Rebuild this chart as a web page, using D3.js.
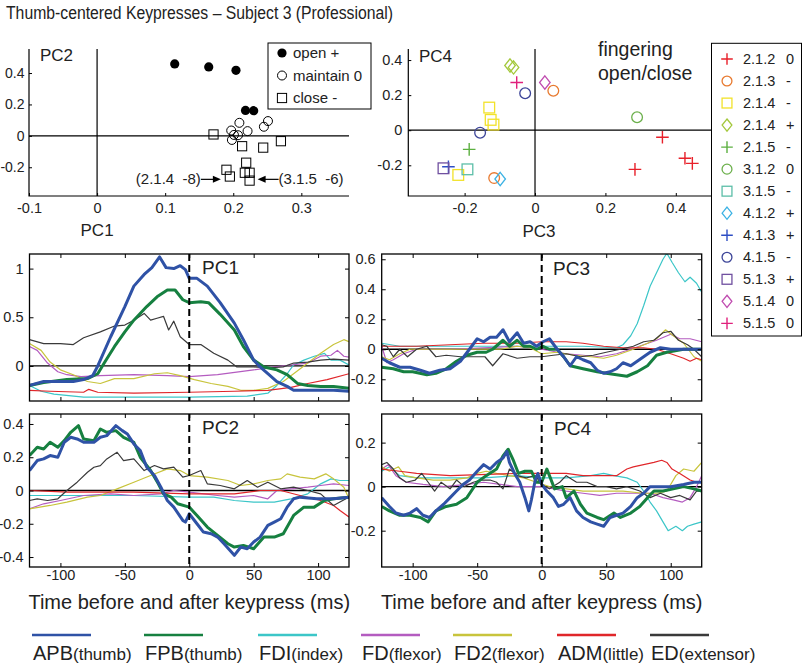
<!DOCTYPE html>
<html><head><meta charset="utf-8">
<script src="https://cdn.jsdelivr.net/npm/d3@7"></script>
<style>
body{margin:0;background:#fff}
svg{display:block}
text{font-family:"Liberation Sans",Arial,Helvetica,sans-serif;fill:#222}
</style>
</head><body>
<svg id="c" width="805" height="668"></svg>
<script>
// ---------------- DATA ----------------
const chartTitle = "Thumb-centered Keypresses \u2013 Subject 3 (Professional)";

// Top-left scatter (PC1 vs PC2): [action index, PC1, PC2]
const actionLabels = ["open +", "maintain 0", "close -"];
const pc12Points = [
  [0,0.114,0.458],[0,0.164,0.439],[0,0.204,0.417],[0,0.218,0.162],[0,0.230,0.160],
  [1,0.209,0.083],[1,0.251,0.094],[1,0.245,0.058],[1,0.197,0.034],[1,0.221,0.030],
  [1,0.201,0.006],[1,0.207,0.004],[1,0.198,-0.026],
  [2,0.171,0.009],[2,0.213,-0.066],[2,0.244,-0.075],[2,0.270,-0.034],[2,0.219,-0.171],
  [2,0.190,-0.216],[2,0.195,-0.259],[2,0.217,-0.235],[2,0.224,-0.235],[2,0.224,-0.285]
];
// annotations: [text, target PC1, target PC2, side]
const pc12Notes = [["(2.1.4  -8)",0.195,-0.259,"left"],["(3.1.5  -6)",0.224,-0.285,"right"]];
const pc12XTicks = [-0.1,0,0.1,0.2,0.3];
const pc12YTicks = [-0.2,0,0.2,0.4];

// Top-right scatter (PC3 vs PC4)
const fingerLabels = ["2.1.2","2.1.3","2.1.4","2.1.4","2.1.5","3.1.2","3.1.5","4.1.2","4.1.3","4.1.5","5.1.3","5.1.4","5.1.5"];
const fingerSigns  = ["0","-","-","+","-","0","-","+","+","-","+","0","0"];
// [finger index, PC3, PC4]
const pc34Points = [
  [0,0.362,-0.040],[0,0.426,-0.160],[0,0.447,-0.189],[0,0.284,-0.223],
  [1,0.052,0.225],[1,-0.116,-0.273],
  [2,-0.130,0.129],[2,-0.126,0.059],[2,-0.118,0.032],[2,-0.218,-0.255],
  [3,-0.071,0.369],[3,-0.061,0.358],
  [4,-0.187,-0.109],
  [5,0.290,0.074],
  [6,-0.192,-0.223],
  [7,-0.099,-0.278],
  [8,-0.246,-0.208],
  [9,-0.028,0.211],[9,-0.156,-0.014],
  [10,-0.260,-0.217],
  [11,0.028,0.272],
  [12,-0.052,0.272]
];
const pc34XTicks = [-0.2,0,0.2,0.4];
const pc34YTicks = [-0.2,0,0.2,0.4];

// Muscles
const muscles = ["APB","FPB","FDI","FD","FD2","ADM","ED"];
const muscleSub = ["(thumb)","(thumb)","(index)","(flexor)","(flexor)","(little)","(extensor)"];
const timeTicks = [-100,-50,0,50,100];

// Time courses: [ms, weight]
const pc1APB = [[-124,-0.20],[-113,-0.16],[-90,-0.16],[-82,-0.14],[-75,-0.10],[-71,0],[-61,0.30],[-50,0.61],[-43,0.82],[-35,0.94],[-29,1.01],[-23,1.12],[-18,1.01],[-12,1.00],[-7,1.03],[-3,0.99],[0,0.90],[6,0.90],[14,0.82],[24,0.65],[35,0.44],[42,0.27],[50,0.06],[55,-0.01],[61,-0.08],[68,-0.16],[76,-0.21],[81,-0.25],[99,-0.25],[112,-0.25],[124,-0.26]];
const pc1FPB = [[-124,-0.20],[-113,-0.17],[-95,-0.14],[-79,-0.13],[-71,-0.08],[-66,0.03],[-58,0.20],[-50,0.35],[-43,0.47],[-33,0.61],[-25,0.71],[-17,0.78],[-11,0.78],[-5,0.68],[0,0.65],[9,0.66],[15,0.65],[24,0.53],[35,0.37],[42,0.20],[50,0.06],[58,-0.01],[68,-0.04],[76,-0.09],[84,-0.18],[92,-0.20],[102,-0.21],[112,-0.21],[124,-0.23]];
const pc1FDI = [[-124,-0.20],[-115,-0.26],[-105,-0.29],[-82,-0.32],[-43,-0.32],[0,-0.32],[45,-0.31],[61,-0.28],[68,-0.20],[76,-0.08],[81,0.01],[89,0.06],[97,0.10],[105,0.13],[110,0.06],[117,0.06],[124,0.01]];
const pc1FD  = [[-124,0.20],[-118,0.16],[-110,0.03],[-102,-0.06],[-95,-0.09],[-84,-0.11],[-69,-0.10],[-43,-0.09],[-17,-0.10],[0,-0.11],[22,-0.09],[50,-0.04],[66,-0.01],[79,0.01],[92,0.03],[102,0.10],[110,0.11],[115,0.16],[120,0.10],[124,0.09]];
const pc1FD2 = [[-124,0.23],[-115,0.16],[-108,0.04],[-100,-0.04],[-90,-0.09],[-79,-0.16],[-69,-0.18],[-58,-0.13],[-43,-0.13],[-27,-0.08],[-17,-0.07],[-7,-0.10],[4,-0.14],[17,-0.18],[30,-0.21],[40,-0.25],[50,-0.25],[61,-0.23],[73,-0.16],[81,-0.08],[92,0.03],[102,0.13],[112,0.22],[120,0.27],[124,0.25]];
const pc1ADM = [[-124,-0.25],[-108,-0.26],[-82,-0.27],[-78,-0.24],[-71,-0.27],[-43,-0.28],[0,-0.27],[35,-0.26],[61,-0.25],[79,-0.22],[92,-0.18],[107,-0.14],[124,-0.08]];
const pc1ED  = [[-124,0.27],[-113,0.23],[-100,0.23],[-90,0.22],[-82,0.29],[-69,0.35],[-58,0.41],[-50,0.42],[-43,0.47],[-35,0.54],[-30,0.47],[-25,0.49],[-20,0.51],[-16,0.37],[-12,0.46],[-7,0.30],[0,0.22],[9,0.22],[19,0.13],[30,0.06],[37,-0.01],[50,-0.01],[61,-0.02],[73,-0.01],[81,0.03],[92,0.04],[102,0.06],[112,0.07],[124,0.06]];

const pc2APB = [[-124,0.12],[-118,0.18],[-113,0.19],[-108,0.21],[-102,0.20],[-97,0.29],[-92,0.32],[-87,0.31],[-82,0.29],[-74,0.29],[-69,0.32],[-64,0.33],[-57,0.39],[-52,0.36],[-48,0.34],[-43,0.28],[-38,0.24],[-33,0.14],[-27,0.09],[-22,0.02],[-17,-0.06],[-12,-0.10],[-5,-0.18],[-3,-0.19],[0,-0.14],[6,-0.20],[11,-0.25],[17,-0.26],[22,-0.28],[27,-0.32],[35,-0.39],[40,-0.34],[45,-0.35],[50,-0.31],[55,-0.28],[61,-0.21],[66,-0.19],[71,-0.17],[76,-0.10],[81,-0.05],[86,-0.04],[99,-0.05],[112,-0.05],[124,-0.04]];
const pc2FPB = [[-124,0.21],[-118,0.26],[-113,0.25],[-108,0.29],[-102,0.26],[-97,0.30],[-92,0.35],[-86,0.39],[-82,0.31],[-74,0.30],[-69,0.37],[-64,0.35],[-57,0.36],[-51,0.32],[-43,0.29],[-38,0.20],[-30,0.12],[-24,0.04],[-20,-0.02],[-14,-0.04],[-9,-0.08],[0,-0.10],[6,-0.15],[14,-0.22],[22,-0.27],[30,-0.32],[35,-0.34],[42,-0.33],[50,-0.35],[58,-0.28],[66,-0.28],[73,-0.26],[81,-0.15],[89,-0.10],[97,-0.10],[105,-0.06],[112,-0.05],[124,-0.04]];
const pc2FDI = [[-124,-0.03],[-95,-0.03],[-43,-0.03],[0,-0.04],[19,-0.04],[35,-0.06],[50,-0.07],[66,-0.07],[79,-0.05],[92,-0.02],[102,0.04],[110,0.07],[117,0.06],[124,0.06]];
const pc2FD  = [[-124,-0.11],[-113,-0.08],[-100,-0.06],[-82,-0.03],[-61,-0.02],[-43,-0.03],[-22,-0.02],[-12,0.00],[0,-0.01],[22,-0.03],[35,-0.04],[50,-0.03],[61,-0.05],[68,0.00],[79,0.01],[92,0.02],[102,0.03],[112,0.04],[124,0.03]];
const pc2FD2 = [[-124,-0.11],[-108,-0.09],[-95,-0.07],[-79,-0.04],[-69,-0.03],[-56,0.01],[-43,0.05],[-30,0.09],[-17,0.13],[-7,0.12],[0,0.09],[14,0.08],[30,0.06],[40,0.03],[50,0.04],[61,0.06],[71,0.07],[76,0.10],[86,0.08],[97,0.07],[106,0.10],[112,0.07],[120,0.02],[124,-0.05]];
const pc2ADM = [[-124,0.00],[-95,-0.01],[-43,-0.01],[0,-0.02],[35,-0.02],[55,0.00],[71,0.00],[86,-0.03],[102,-0.06],[112,-0.09],[117,-0.12],[124,-0.16]];
const pc2ED  = [[-124,-0.06],[-118,-0.05],[-110,-0.06],[-102,-0.05],[-95,0.00],[-87,0.05],[-79,0.11],[-74,0.14],[-69,0.15],[-64,0.19],[-56,0.23],[-51,0.18],[-43,0.19],[-35,0.12],[-27,0.15],[-20,0.13],[-12,0.14],[-5,0.08],[0,0.09],[9,0.12],[14,0.04],[24,0.03],[35,0.01],[45,0.06],[53,0.02],[61,0.05],[71,0.01],[81,0.02],[92,0.00],[102,-0.02],[112,-0.09],[124,-0.04]];

const pc3APB = [[-124,-0.06],[-118,-0.09],[-110,-0.12],[-102,-0.12],[-94,-0.14],[-87,-0.16],[-79,-0.14],[-71,-0.13],[-63,-0.08],[-56,0.00],[-50,0.07],[-45,0.05],[-40,0.08],[-35,0.08],[-30,0.13],[-25,0.05],[-19,0.11],[-14,0.04],[-9,0.05],[-4,0.02],[1,0.05],[6,0.07],[12,0.00],[17,-0.05],[22,-0.11],[27,-0.05],[32,-0.07],[38,-0.09],[43,-0.14],[48,-0.16],[53,-0.15],[58,-0.13],[63,-0.09],[69,-0.11],[74,-0.08],[79,-0.05],[84,-0.02],[92,0.01],[100,0.00],[110,0.00],[124,0.00]];
const pc3FPB = [[-124,-0.12],[-115,-0.13],[-107,-0.15],[-100,-0.15],[-89,-0.17],[-82,-0.16],[-74,-0.13],[-66,-0.08],[-58,-0.04],[-50,-0.02],[-43,-0.02],[-38,0.00],[-30,0.06],[-25,0.02],[-19,0.06],[-14,0.02],[-9,0.02],[-4,0.00],[1,0.02],[6,0.00],[12,0.00],[17,-0.05],[22,-0.11],[32,-0.13],[43,-0.15],[50,-0.16],[58,-0.17],[66,-0.18],[74,-0.15],[82,-0.11],[89,-0.04],[97,-0.02],[110,0.00],[124,0.00]];
const pc3FDI = [[-124,0.04],[-110,0.02],[-71,0.02],[-19,0.02],[32,0.02],[58,0.01],[63,0.03],[69,0.09],[74,0.17],[79,0.29],[84,0.42],[89,0.51],[94,0.60],[97,0.64],[101,0.58],[106,0.51],[111,0.45],[115,0.48],[120,0.44],[124,0.38]];
const pc3FD  = [[-124,0.02],[-120,-0.09],[-115,-0.07],[-107,-0.03],[-97,0.00],[-71,0.00],[-45,0.01],[-19,0.02],[0,0.00],[19,-0.03],[32,-0.04],[45,-0.05],[58,-0.03],[69,0.00],[79,0.03],[89,0.06],[100,0.10],[107,0.07],[115,0.07],[124,0.05]];
const pc3FD2 = [[-124,-0.05],[-118,-0.07],[-110,-0.03],[-102,0.00],[-71,0.00],[-32,0.00],[-19,0.02],[-9,0.01],[0,-0.03],[12,-0.02],[25,-0.04],[38,-0.05],[48,-0.06],[58,-0.04],[71,0.00],[82,0.04],[89,0.07],[96,0.13],[102,0.09],[110,0.04],[118,-0.05],[124,-0.08]];
const pc3ADM = [[-124,0.02],[-97,0.02],[-71,0.03],[-45,0.04],[-19,0.04],[0,0.05],[19,0.05],[32,0.04],[48,0.02],[63,0.01],[79,0.01],[89,0.00],[100,-0.03],[110,-0.06],[115,-0.08],[120,-0.06],[124,-0.07]];
const pc3ED  = [[-124,0.03],[-120,0.02],[-115,-0.05],[-110,0.00],[-104,-0.05],[-97,0.00],[-89,0.02],[-82,-0.05],[-74,-0.04],[-63,-0.05],[-50,-0.05],[-44,-0.05],[-38,-0.11],[-30,-0.03],[-19,-0.06],[-9,-0.05],[0,-0.05],[9,-0.04],[19,-0.03],[30,-0.05],[40,-0.04],[50,-0.02],[61,0.00],[71,0.02],[79,0.05],[87,0.06],[94,0.11],[100,0.12],[106,0.06],[113,0.03],[118,0.00],[124,-0.05]];

const pc4APB = [[-124,-0.05],[-118,-0.09],[-113,-0.12],[-107,-0.13],[-102,-0.12],[-97,-0.10],[-92,-0.13],[-87,-0.14],[-82,-0.11],[-76,-0.08],[-71,-0.05],[-66,-0.02],[-61,0.01],[-56,0.03],[-50,0.07],[-45,0.10],[-40,0.08],[-35,0.11],[-30,0.13],[-27,0.16],[-25,0.11],[-21,0.06],[-17,0.02],[-13,-0.05],[-10,-0.11],[-8,-0.06],[-5,0.03],[-3,0.06],[0,0.01],[4,-0.02],[9,-0.05],[13,-0.09],[17,-0.08],[22,-0.05],[27,-0.11],[32,-0.14],[38,-0.16],[43,-0.17],[48,-0.18],[53,-0.14],[58,-0.13],[63,-0.12],[69,-0.09],[74,-0.05],[79,-0.03],[84,0.00],[92,0.00],[100,0.00],[110,0.01],[118,0.02],[124,0.02]];
const pc4FPB = [[-124,-0.09],[-118,-0.11],[-110,-0.13],[-102,-0.13],[-94,-0.14],[-88,-0.16],[-82,-0.11],[-74,-0.09],[-66,-0.08],[-58,-0.05],[-50,0.02],[-43,0.05],[-35,0.08],[-30,0.14],[-26,0.17],[-22,0.12],[-18,0.06],[-13,0.07],[-8,0.07],[-4,0.02],[0,0.02],[4,0.08],[6,0.05],[10,-0.01],[16,0.00],[19,-0.05],[25,-0.02],[30,-0.08],[35,-0.12],[43,-0.14],[48,-0.15],[56,-0.12],[61,-0.14],[69,-0.12],[76,-0.09],[82,-0.05],[87,-0.02],[94,-0.02],[102,-0.01],[110,0.00],[118,-0.01],[124,-0.02]];
const pc4FDI = [[-124,0.07],[-118,0.09],[-110,0.05],[-97,0.04],[-71,0.04],[-45,0.04],[-19,0.05],[0,0.04],[19,0.04],[38,0.05],[48,0.06],[56,0.05],[66,0.04],[74,0.02],[79,-0.02],[84,-0.07],[89,-0.11],[94,-0.16],[98,-0.20],[104,-0.18],[109,-0.20],[113,-0.18],[118,-0.17],[124,-0.16]];
const pc4FD  = [[-124,0.08],[-119,0.10],[-113,0.05],[-105,0.02],[-92,0.01],[-76,0.00],[-58,0.01],[-45,0.02],[-32,0.01],[-19,0.00],[0,0.00],[19,-0.02],[32,-0.03],[45,-0.04],[58,-0.03],[71,-0.03],[84,-0.03],[94,-0.05],[102,-0.06],[109,-0.07],[115,-0.05],[120,0.00],[124,0.05]];
const pc4FD2 = [[-124,0.09],[-118,0.07],[-111,0.09],[-106,0.05],[-97,0.04],[-84,0.03],[-71,0.03],[-58,0.04],[-50,0.06],[-43,0.07],[-35,0.06],[-25,0.05],[-14,0.04],[-4,0.02],[6,0.00],[19,-0.01],[32,-0.02],[48,-0.02],[63,-0.02],[79,-0.03],[89,-0.03],[97,-0.02],[104,0.05],[110,0.08],[118,0.07],[124,0.11]];
const pc4ADM = [[-124,0.08],[-110,0.07],[-97,0.06],[-71,0.05],[-19,0.06],[0,0.06],[19,0.06],[32,0.05],[48,0.05],[58,0.05],[66,0.08],[71,0.09],[79,0.10],[87,0.11],[93,0.12],[97,0.11],[101,0.08],[107,0.06],[115,0.03],[120,0.02],[124,0.02]];
const pc4ED  = [[-124,0.10],[-120,0.11],[-115,0.08],[-110,0.04],[-105,0.02],[-98,0.03],[-93,0.06],[-88,0.02],[-83,-0.02],[-78,0.02],[-71,-0.01],[-66,0.03],[-60,0.00],[-53,0.02],[-47,0.03],[-40,0.03],[-35,0.02],[-30,-0.01],[-25,0.08],[-19,0.05],[-12,0.04],[-5,0.05],[0,0.01],[6,-0.01],[14,0.02],[19,0.05],[27,0.02],[35,0.02],[43,0.00],[50,0.00],[58,-0.01],[66,0.00],[76,-0.02],[84,-0.05],[92,-0.03],[100,-0.05],[107,-0.04],[115,-0.06],[120,-0.02],[124,-0.02]];

// ---------------- STYLE / LAYOUT ----------------
const muscleColors = ["#2f52a6","#168040","#3cc6c8","#b45cc0","#c8c43c","#e0262a","#3a3a3a"];
const muscleWidths = [3,3,1.2,1.2,1.2,1.2,1.2];
const drawOrder = [2,3,4,5,6,1,0];
const fingerColors = ["#e8202a","#e87a30","#f2e22a","#a4c83c","#5cb040","#6cb04c","#5cbea8","#3cb2e4","#2e4ec4","#3c4498","#7050a0","#c04cb0","#e0207c"];
const fingerShapes = ["+","o","s","d","+","o","s","d","+","o","s","d","+"];
const FONT = '"Liberation Sans",Arial,Helvetica,sans-serif';

const svg = d3.select("#c");
svg.append("rect").attr("width",805).attr("height",668).attr("fill","#fff");

svg.append("text").attr("x",6).attr("y",19).attr("font-size",17.5)
  .attr("textLength",387).attr("lengthAdjust","spacingAndGlyphs").text(chartTitle);

function marker(g, shape, cx, cy, color, sz, filled){
  if(shape==="+"){
    g.append("path").attr("d",`M${cx-sz},${cy}H${cx+sz}M${cx},${cy-sz}V${cy+sz}`)
      .attr("stroke",color).attr("stroke-width",1.4).attr("fill","none");
  } else if(shape==="o"){
    g.append("circle").attr("cx",cx).attr("cy",cy).attr("r",sz*0.85)
      .attr("stroke",color).attr("stroke-width",1.3).attr("fill",filled?color:"none");
  } else if(shape==="s"){
    const h=sz*0.85;
    g.append("rect").attr("x",cx-h).attr("y",cy-h).attr("width",2*h).attr("height",2*h)
      .attr("stroke",color).attr("stroke-width",1.3).attr("fill","none");
  } else if(shape==="d"){
    const h=sz*1.05;
    g.append("path").attr("d",`M${cx},${cy-h}L${cx+h*0.8},${cy}L${cx},${cy+h}L${cx-h*0.8},${cy}Z`)
      .attr("stroke",color).attr("stroke-width",1.3).attr("fill","none");
  }
}

function styleAxis(g, fs){
  g.select(".domain").remove();
  g.selectAll("line").attr("stroke","#000").attr("stroke-width",1);
  g.selectAll("text").attr("font-size",fs).attr("font-family",FONT).attr("fill","#222");
}
const fmt = d => String(d);

// ---------- Scatter PC1/PC2 ----------
(function(){
  const L=29, R=349, T=49, B=196;
  const x = d3.scaleLinear().domain([-0.1,0.37]).range([L,R]);
  const y = d3.scaleLinear().domain([-0.383,0.553]).range([B,T]);
  const g = svg.append("g");
  g.append("line").attr("x1",L).attr("x2",R).attr("y1",y(0)).attr("y2",y(0)).attr("stroke","#000").attr("stroke-width",1.2);
  g.append("line").attr("x1",x(0)).attr("x2",x(0)).attr("y1",T).attr("y2",B).attr("stroke","#000").attr("stroke-width",1.2);
  const ax = g.append("g").attr("transform",`translate(0,${B})`)
    .call(d3.axisBottom(x).tickValues(pc12XTicks).tickFormat(fmt).tickSizeInner(-3).tickSizeOuter(0).tickPadding(7));
  styleAxis(ax,14.5);
  const ay = g.append("g").attr("transform",`translate(${L},0)`)
    .call(d3.axisLeft(y).tickValues(pc12YTicks).tickFormat(fmt).tickSizeInner(-3).tickSizeOuter(0).tickPadding(4.5));
  styleAxis(ay,14);
  g.append("path").attr("d",`M${L},${T}V${B}H${R}`).attr("fill","none").attr("stroke","#000").attr("stroke-width",1.2);
  pc12Points.forEach(p=>{
    const cx=x(p[1]), cy=y(p[2]);
    if(p[0]===0) g.append("circle").attr("cx",cx).attr("cy",cy).attr("r",4.6).attr("fill","#000");
    else if(p[0]===1) g.append("circle").attr("cx",cx).attr("cy",cy).attr("r",4.5).attr("fill","none").attr("stroke","#000").attr("stroke-width",1);
    else g.append("rect").attr("x",cx-4.6).attr("y",cy-4.6).attr("width",9.2).attr("height",9.2).attr("fill","none").attr("stroke","#000").attr("stroke-width",1);
  });
  pc12Notes.forEach(n=>{
    const tx=x(n[1]), ty=y(-0.277);
    if(n[3]==="left"){
      const tip=tx-9;
      g.append("line").attr("x1",tip-20).attr("x2",tip-6).attr("y1",ty).attr("y2",ty).attr("stroke","#000").attr("stroke-width",1.2);
      g.append("path").attr("d",`M${tip},${ty}L${tip-8},${ty-3.5}L${tip-8},${ty+3.5}Z`).attr("fill","#000");
      g.append("text").attr("x",tip-20).attr("y",ty+5).attr("text-anchor","end").attr("font-size",15).style("white-space","pre").text(n[0]);
    } else {
      const tip=tx+8;
      g.append("line").attr("x1",tip+6).attr("x2",tip+21).attr("y1",ty).attr("y2",ty).attr("stroke","#000").attr("stroke-width",1.2);
      g.append("path").attr("d",`M${tip},${ty}L${tip+8},${ty-3.5}L${tip+8},${ty+3.5}Z`).attr("fill","#000");
      g.append("text").attr("x",tip+21).attr("y",ty+5).attr("font-size",15).style("white-space","pre").text(n[0]);
    }
  });
  g.append("text").attr("x",40).attr("y",61).attr("font-size",17).text("PC2");
  g.append("text").attr("x",x(0)).attr("y",236).attr("text-anchor","middle").attr("font-size",17).text("PC1");
  // legend
  const lg = g.append("g");
  lg.append("rect").attr("x",268).attr("y",43).attr("width",103).attr("height",66).attr("fill","#fff").attr("stroke","#000").attr("stroke-width",1);
  actionLabels.forEach((lab,i)=>{
    const cy = 53 + i*22.5;
    if(i===0) lg.append("circle").attr("cx",282).attr("cy",cy).attr("r",4.6).attr("fill","#000");
    else if(i===1) lg.append("circle").attr("cx",282).attr("cy",cy).attr("r",4.5).attr("fill","none").attr("stroke","#000");
    else lg.append("rect").attr("x",277.4).attr("y",cy-4.6).attr("width",9.2).attr("height",9.2).attr("fill","none").attr("stroke","#000");
    lg.append("text").attr("x",293).attr("y",cy+5).attr("font-size",15).text(lab);
  });
})();

// ---------- Scatter PC3/PC4 ----------
(function(){
  const L=408.3, R=711, T=49, B=196;
  const x = d3.scaleLinear().domain([-0.36,0.5]).range([L,R]);
  const y = d3.scaleLinear().domain([-0.375,0.463]).range([B,T]);
  const g = svg.append("g");
  g.append("line").attr("x1",L).attr("x2",R).attr("y1",y(0)).attr("y2",y(0)).attr("stroke","#000").attr("stroke-width",1.2);
  g.append("line").attr("x1",x(0)).attr("x2",x(0)).attr("y1",T).attr("y2",B).attr("stroke","#000").attr("stroke-width",1.2);
  const ax = g.append("g").attr("transform",`translate(0,${B})`)
    .call(d3.axisBottom(x).tickValues(pc34XTicks).tickFormat(fmt).tickSizeInner(-3).tickSizeOuter(0).tickPadding(7));
  styleAxis(ax,14.5);
  const ay = g.append("g").attr("transform",`translate(${L},0)`)
    .call(d3.axisLeft(y).tickValues(pc34YTicks).tickFormat(fmt).tickSizeInner(-3).tickSizeOuter(0).tickPadding(6));
  styleAxis(ay,14.5);
  g.append("path").attr("d",`M${L},${T}V${B}H${R}`).attr("fill","none").attr("stroke","#000").attr("stroke-width",1.2);
  pc34Points.forEach(p=>{
    marker(g, fingerShapes[p[0]], x(p[1]), y(p[2]), fingerColors[p[0]], 6.3);
  });
  g.append("text").attr("x",419).attr("y",62).attr("font-size",17).text("PC4");
  g.append("text").attr("x",x(0)+4).attr("y",237).attr("text-anchor","middle").attr("font-size",17).text("PC3");
  g.append("text").attr("x",598).attr("y",56).attr("font-size",19.5).text("fingering");
  g.append("text").attr("x",598).attr("y",80).attr("font-size",19.5).text("open/close");
  // legend
  const lg = g.append("g");
  lg.append("rect").attr("x",711.5).attr("y",43.3).attr("width",90).attr("height",292.7).attr("fill","#fff").attr("stroke","#000").attr("stroke-width",1);
  fingerLabels.forEach((lab,i)=>{
    const cy = 59 + i*22.03;
    marker(lg, fingerShapes[i], 727, cy, fingerColors[i], 5.8);
    lg.append("text").attr("x",743).attr("y",cy+5).attr("font-size",14.5).text(lab);
    lg.append("text").attr("x",786).attr("y",cy+5).attr("font-size",14.5).text(fingerSigns[i]);
  });
})();

// ---------- Line panels ----------
const panels = [
  {name:"PC1", x0:29.5, x1:349, y0:254, y1:401, dom:[-0.36,1.15], ticks:[0,0.5,1], series:[pc1APB,pc1FPB,pc1FDI,pc1FD,pc1FD2,pc1ADM,pc1ED], lx:202, ly:274, xlab:false},
  {name:"PC3", x0:381.7, x1:701.7, y0:254, y1:401, dom:[-0.345,0.635], ticks:[-0.2,0,0.2,0.4,0.6], series:[pc3APB,pc3FPB,pc3FDI,pc3FD,pc3FD2,pc3ADM,pc3ED], lx:553, ly:275, xlab:false},
  {name:"PC2", x0:29.5, x1:349, y0:414, y1:567, dom:[-0.46,0.46], ticks:[-0.4,-0.2,0,0.2,0.4], series:[pc2APB,pc2FPB,pc2FDI,pc2FD,pc2FD2,pc2ADM,pc2ED], lx:202, ly:434, xlab:true},
  {name:"PC4", x0:381.7, x1:701.7, y0:414, y1:567, dom:[-0.365,0.33], ticks:[-0.2,0,0.2], series:[pc4APB,pc4FPB,pc4FDI,pc4FD,pc4FD2,pc4ADM,pc4ED], lx:554, ly:435, xlab:true}
];
const defs = svg.append("defs");
panels.forEach(p=>{
  const x = d3.scaleLinear().domain([-124,124]).range([p.x0,p.x1]);
  const y = d3.scaleLinear().domain(p.dom).range([p.y1,p.y0]);
  const g = svg.append("g");
  defs.append("clipPath").attr("id","clip"+p.name).append("rect")
    .attr("x",p.x0).attr("y",p.y0).attr("width",p.x1-p.x0).attr("height",p.y1-p.y0);
  g.append("line").attr("x1",p.x0).attr("x2",p.x1).attr("y1",y(0)).attr("y2",y(0)).attr("stroke","#000").attr("stroke-width",1.3);
  const cg = g.append("g").attr("clip-path",`url(#clip${p.name})`);
  const line = d3.line().x(d=>x(d[0])).y(d=>y(d[1])).curve(d3.curveLinear);
  drawOrder.forEach(i=>{
    cg.append("path").datum(p.series[i]).attr("d",line)
      .attr("fill","none").attr("stroke",muscleColors[i]).attr("stroke-width",muscleWidths[i])
      .attr("stroke-linejoin","round");
  });
  g.append("line").attr("x1",x(0)).attr("x2",x(0)).attr("y1",p.y0).attr("y2",p.y1)
    .attr("stroke","#000").attr("stroke-width",2).attr("stroke-dasharray","7,4");
  const ab = g.append("g").attr("transform",`translate(0,${p.y1})`)
    .call(d3.axisBottom(x).tickValues(timeTicks).tickFormat(p.xlab?fmt:"").tickSizeInner(-4).tickSizeOuter(0).tickPadding(2.5));
  styleAxis(ab,14.5);
  const at = g.append("g").attr("transform",`translate(0,${p.y0})`)
    .call(d3.axisTop(x).tickValues(timeTicks).tickFormat("").tickSizeInner(-4).tickSizeOuter(0));
  styleAxis(at,14.5);
  const al = g.append("g").attr("transform",`translate(${p.x0},0)`)
    .call(d3.axisLeft(y).tickValues(p.ticks).tickFormat(fmt).tickSizeInner(-4).tickSizeOuter(0).tickPadding(6));
  styleAxis(al,14.5);
  const ar = g.append("g").attr("transform",`translate(${p.x1},0)`)
    .call(d3.axisRight(y).tickValues(p.ticks).tickFormat("").tickSizeInner(-4).tickSizeOuter(0));
  styleAxis(ar,14.5);
  g.append("rect").attr("x",p.x0).attr("y",p.y0).attr("width",p.x1-p.x0).attr("height",p.y1-p.y0)
    .attr("fill","none").attr("stroke","#000").attr("stroke-width",1.3);
  g.append("text").attr("x",p.lx).attr("y",p.ly).attr("font-size",19).text(p.name);
  if(p.xlab){
    g.append("text").attr("x",(p.x0+p.x1)/2).attr("y",609).attr("text-anchor","middle").attr("font-size",20)
      .text("Time before and after keypress (ms)");
  }
});

// ---------- Bottom legend ----------
const legX = [32,144,258,361,453,557,650];
const lgb = svg.append("g");
muscles.forEach((m,i)=>{
  lgb.append("line").attr("x1",legX[i]).attr("x2",legX[i]+59).attr("y1",635).attr("y2",635)
    .attr("stroke",muscleColors[i]).attr("stroke-width",2.5);
  const t = lgb.append("text").attr("x",legX[i]+1).attr("y",660);
  t.append("tspan").attr("font-size",20).text(m);
  t.append("tspan").attr("font-size",17).text(muscleSub[i]);
});
</script>
</body></html>
